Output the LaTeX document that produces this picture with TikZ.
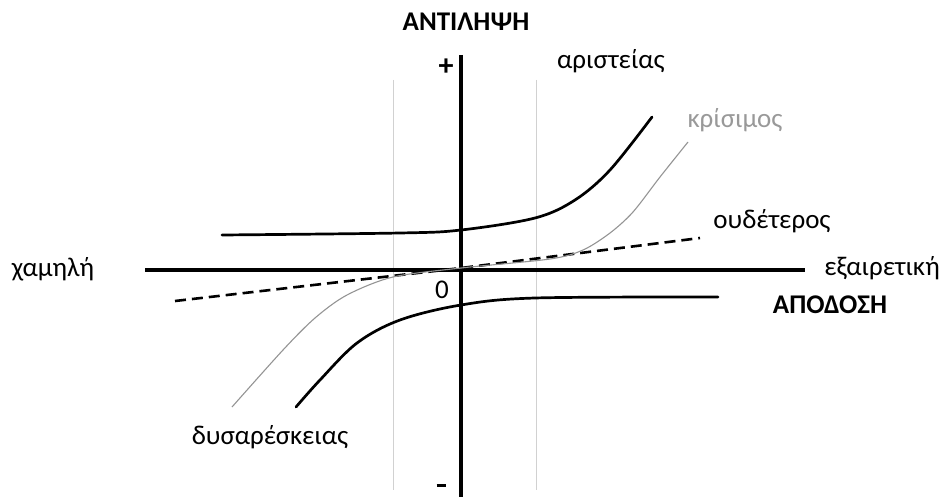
\documentclass[tikz,border=0pt]{standalone}
\usepackage{fontspec}
\setmainfont{Carlito}
\begin{document}
\begin{tikzpicture}[x=1pt,y=-1pt,
  lbl/.style={inner sep=0pt,font=\fontsize{27}{32}\selectfont},
  blbl/.style={inner sep=0pt,font=\fontsize{27}{32}\selectfont\bfseries},
  axisline/.style={line width=4.5pt},
  guide/.style={line width=0.9pt,draw=black!18},
  thickcurve/.style={line width=2.7pt,line cap=round},
  graycurve/.style={line width=1.1pt,draw=black!42},
  dashline/.style={line width=2.6pt,dash pattern=on 11pt off 6pt}]
\useasboundingbox (0,0) rectangle (944,497);
% guide lines
\draw[guide] (393,80) -- (393,490);
\draw[guide] (536,80) -- (536,490);
% axes
\coordinate (vtop) at (461,55);
\coordinate (vbot) at (461,497);
\coordinate (hl) at (145,270);
\coordinate (hr) at (805,270);
\draw[axisline] (vtop) -- (vbot);
\draw[axisline] (hl) -- (hr);
% dashed neutral line
\draw[dashline] (175,301) -- (461,268) -- (700,238);
% gray curve
\draw[graycurve] plot[smooth,tension=0.5] coordinates {(232,407) (283,350) (315,318) (347,295) (393,277) (461,268) (550,259) (583,250) (610,233) (633,212) (660,177) (688,142)};
% upper thick curve
\draw[thickcurve] plot[smooth,tension=0.55] coordinates {(222,235) (400,233) (461,230) (535,218) (575,200) (610,170) (652,117)};
% lower thick curve
\draw[thickcurve] plot[smooth,tension=0.55] coordinates {(296,407) (320,380) (357,343) (400,320) (461,305) (535,298) (718,297)};
% labels
\node[blbl] (title) at (466,22) {ΑΝΤΙΛΗΨΗ};
\node[inner sep=0pt,font=\fontsize{30}{32}\selectfont\bfseries] (plus) at (446,67) {+};
\node[inner sep=0pt] (minus) at (441,485) {\rule{9pt}{3pt}};
\node[lbl] (zero) at (442,290) {0};
\node[lbl] (arist) at (611,61) {αριστείας};
\node[lbl,text=black!40] (kris) at (735,120) {κρίσιμος};
\node[lbl] (oud) at (772,221) {ουδέτερος};
\node[lbl] (low) at (53,269) {χαμηλή};
\node[lbl] (exc) at (882,268) {εξαιρετική};
\node[blbl] (apod) at (830,305) {ΑΠΟΔΟΣΗ};
\node[lbl] (dys) at (270,437) {δυσαρέσκειας};
\end{tikzpicture}
\end{document}
